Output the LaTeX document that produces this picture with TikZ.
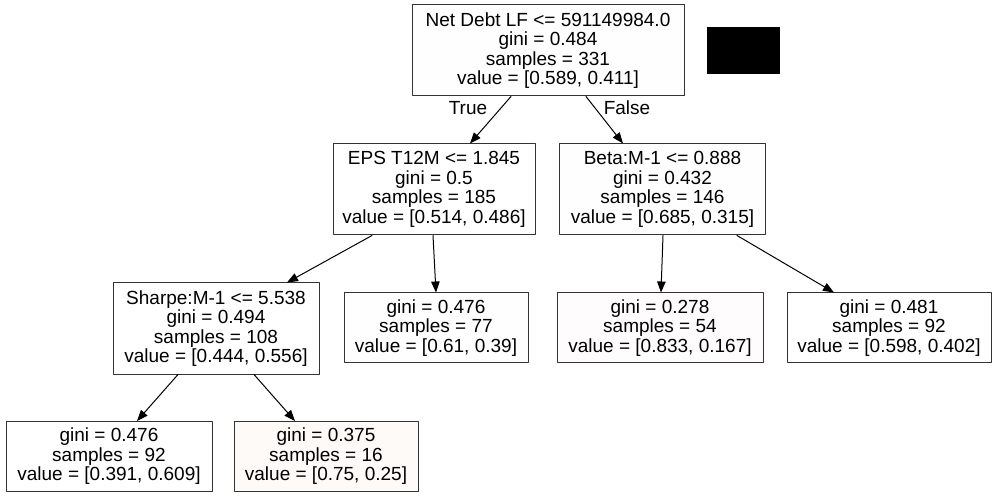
\documentclass[tikz,border=0pt]{standalone}
\usepackage{fontspec}
\setmainfont{Liberation Sans}
\usepackage{tikz}
\usetikzlibrary{calc}
\usetikzlibrary{arrows.meta}
\definecolor{ffffff}{rgb}{1.,1.,1.}
\definecolor{fefefe}{rgb}{0.998,0.998,0.998}
\definecolor{fefaf7}{rgb}{0.996,0.98,0.969}
\definecolor{fffbfc}{rgb}{1.,0.988,0.992}
\definecolor{tttttt}{rgb}{0.2,0.2,0.2}
\tikzset{
  box/.style={draw=tttttt,line width=1pt,inner sep=0pt,align=center,
    font=\fontsize{19}{19.5}\selectfont},
  split/.style={box,minimum height=91pt},
  leaf/.style={box,minimum height=70pt},
  edge/.style={line width=1pt,-{Triangle[length=11pt,width=8.5pt]}},
  lbl/.style={font=\fontsize{19}{19.5}\selectfont}
}

\begin{document}
\begin{tikzpicture}[line cap=round,line join=round,x=1pt,y=-1pt]
            \useasboundingbox[fill=white] (0,0) rectangle (997,497);
            \node[split,fill=fefefe,minimum width=272pt] (root) at (548,50.5) {Net Debt LF <= 591149984.0\\gini = 0.484\\samples = 331\\value = [0.589, 0.411]};
            \node[fill=black,minimum width=73pt,minimum height=47pt,inner sep=0pt] (key) at (743.5,50.5) {};
            \node[split,fill=ffffff,minimum width=202pt] (eps) at (434,189.5) {EPS T12M <= 1.845\\gini = 0.5\\samples = 185\\value = [0.514, 0.486]};
            \node[split,fill=fefefe,minimum width=206pt] (beta) at (662.5,189.5) {Beta:M-1 <= 0.888\\gini = 0.432\\samples = 146\\value = [0.685, 0.315]};
            \node[split,fill=ffffff,minimum width=206pt] (sharpe) at (216,328.5) {Sharpe:M-1 <= 5.538\\gini = 0.494\\samples = 108\\value = [0.444, 0.556]};
            \node[leaf,fill=fefefe,minimum width=184pt] (l77) at (436,328) {gini = 0.476\\samples = 77\\value = [0.61, 0.39]};
            \node[leaf,fill=fffbfc,minimum width=206pt] (l54) at (660,328) {gini = 0.278\\samples = 54\\value = [0.833, 0.167]};
            \node[leaf,fill=ffffff,minimum width=204pt] (l92b) at (889,328) {gini = 0.481\\samples = 92\\value = [0.598, 0.402]};
            \node[leaf,fill=ffffff,minimum width=206pt] (l92a) at (109,456.5) {gini = 0.476\\samples = 92\\value = [0.391, 0.609]};
            \node[leaf,fill=fefaf7,minimum width=184pt] (l16) at (326,456.5) {gini = 0.375\\samples = 16\\value = [0.75, 0.25]};
            % edges
            \draw[edge] ($(root.south)+(-37,0)$) -- ($(eps.north)+(36,0)$);
            \draw[edge] ($(root.south)+(38,0)$) -- ($(beta.north)+(-39.5,0)$);
            \draw[edge] ($(eps.south)+(-62,0)$) -- ($(sharpe.north)+(71,0)$);
            \draw[edge] ($(eps.south)+(-1,0)$) -- ($(l77.north)+(0,0)$);
            \draw[edge] ($(beta.south)+(0.5,0)$) -- ($(l54.north)+(1,0)$);
            \draw[edge] ($(beta.south)+(74.5,0)$) -- ($(l92b.north)+(-55,0)$);
            \draw[edge] ($(sharpe.south)+(-38,0)$) -- ($(l92a.north)+(28,0)$);
            \draw[edge] ($(sharpe.south)+(38,0)$) -- ($(l16.north)+(-31,0)$);
            \node[lbl] (true) at (468,108) {True};
            \node[lbl] (false) at (627,108) {False};
\end{tikzpicture}
\end{document}
